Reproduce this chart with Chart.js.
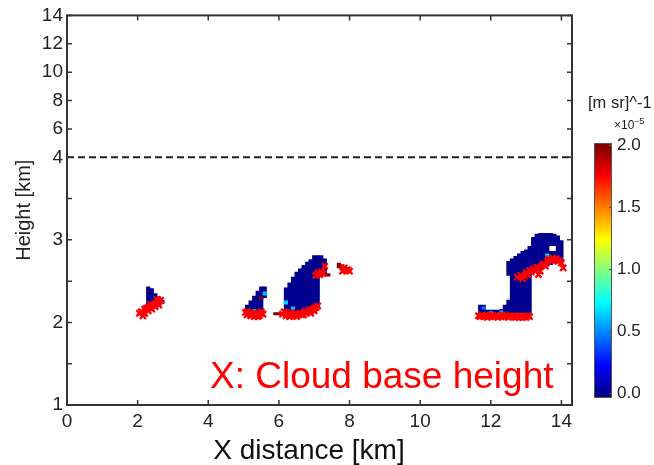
<!DOCTYPE html>
<html>
<head>
<meta charset="utf-8">
<script src="https://cdn.jsdelivr.net/npm/chart.js@4/dist/chart.umd.min.js"></script>
<style>
  html, body { margin: 0; padding: 0; background: #ffffff; }
  #wrap { width: 654px; height: 465px; position: relative; }
</style>
</head>
<body>
<div id="wrap"><canvas id="c" width="654" height="465"></canvas></div>
<script>
// ---------------- axes ----------------
const xMax = 14.3;                                   // km
const xTicks = [0, 2, 4, 6, 8, 10, 12, 14];
const yTicks = [1, 1.5, 2, 2.5, 3, 3.5, 4, 6, 8, 10, 12, 14];
const yLabelled = [1, 2, 3, 4, 6, 8, 10, 12, 14];
const splitHeight = 4;                               // km, axis is stretched below this
const upperScaleFactor = 0.1718;                     // compression above splitHeight
const cbTicks = [0.0, 0.5, 1.0, 1.5, 2.0];           // x10^-5 [m sr]^-1
const cbMax = 2.0;

// ---------------- cloud bodies: one column per 0.1 km ----------------
const colX = [
  2.3, 2.4, 2.5, 2.6, 2.7,
  5.1, 5.2, 5.3, 5.4, 5.5, 5.6,
  6.2, 6.3, 6.4, 6.5, 6.6, 6.7, 6.8, 6.9, 7.0, 7.1, 7.2, 7.3,
  11.7, 11.8, 11.9, 12.0, 12.1, 12.2, 12.3, 12.4, 12.5, 12.5,
  12.6, 12.7, 12.8, 12.9, 13.0, 13.1, 13.2, 13.3, 13.4, 13.5, 13.6,
  13.7, 13.7, 13.8, 13.8, 13.9, 14.0
];
const colLo = [
  2.16, 2.16, 2.18, 2.20, 2.23,
  2.11, 2.11, 2.11, 2.11, 2.14, 2.30,
  2.12, 2.12, 2.12, 2.12, 2.12, 2.13, 2.14, 2.15, 2.16, 2.18, 2.55, 2.58,
  2.08, 2.08, 2.08, 2.08, 2.08, 2.08, 2.08, 2.08, 2.08, 2.57,
  2.08, 2.08, 2.08, 2.08, 2.08, 2.08, 2.60, 2.62, 2.64, 2.66, 2.68,
  2.70, 2.93, 2.72, 2.93, 2.73, 2.72
];
const colHi = [
  2.43, 2.41, 2.35, 2.31, 2.27,
  2.21, 2.26, 2.32, 2.38, 2.43, 2.43,
  2.42, 2.48, 2.55, 2.61, 2.65, 2.69, 2.73, 2.76, 2.81, 2.81, 2.81, 2.77,
  2.21, 2.21, 2.15, 2.15, 2.15, 2.15, 2.16, 2.21, 2.27, 2.74,
  2.77, 2.80, 2.83, 2.86, 2.88, 2.92, 3.03, 3.07, 3.08, 3.08, 3.08,
  2.86, 3.08, 2.86, 3.07, 3.05, 2.99
];
const bodyValue = 0.0;

// ---------------- cells with stronger backscatter ----------------
const cellX   = [5.6, 5.5, 5.3, 5.9, 6.0, 6.1, 6.2, 6.4, 6.7, 7.4, 7.7, 7.8, 12.0, 12.3, 11.8, 12.7, 12.8, 12.9, 13.0, 13.6];
const cellLo  = [2.33, 2.28, 2.13, 2.09, 2.09, 2.09, 2.22, 2.15, 2.08, 2.56, 2.66, 2.64, 2.10, 2.11, 2.16, 2.08, 2.08, 2.08, 2.08, 2.79];
const cellHi  = [2.37, 2.31, 2.16, 2.12, 2.12, 2.12, 2.26, 2.19, 2.11, 2.59, 2.72, 2.70, 2.13, 2.14, 2.19, 2.11, 2.11, 2.11, 2.11, 2.83];
const cellVal = [0.60, 2.00, 0.60, 2.00, 2.00, 1.95, 0.65, 0.60, 1.20, 2.00, 2.00, 1.90, 0.60, 0.55, 0.45, 1.30, 1.40, 1.50, 1.35, 0.65];

// ---------------- cloud base height ----------------
const baseX = [
  2.05, 2.1, 2.15, 2.2, 2.25, 2.3, 2.35, 2.4, 2.45, 2.5, 2.55, 2.6, 2.65,
  2.2, 2.3, 2.4, 2.5, 2.6, 2.15, 2.35, 2.55,
  5.05, 5.1, 5.15, 5.2, 5.25, 5.3, 5.35, 5.4, 5.45, 5.5, 5.55,
  5.1, 5.2, 5.3, 5.4, 5.5,
  6.1, 6.15, 6.2, 6.25, 6.3, 6.35, 6.4, 6.45, 6.5, 6.55, 6.6, 6.65, 6.7, 6.75, 6.8, 6.85, 6.9, 6.95, 7.0, 7.05, 7.1,
  6.3, 6.5, 6.7, 6.9, 7.0,
  7.05, 7.1, 7.15, 7.2, 7.25, 7.3,
  7.8, 7.85, 7.9, 7.95, 8.0,
  11.65, 11.7, 11.75, 11.8, 11.85, 11.9, 11.95, 12.0, 12.05, 12.1, 12.15, 12.2, 12.25, 12.3, 12.35,
  12.4, 12.45, 12.5, 12.55, 12.6, 12.65, 12.7, 12.75, 12.8, 12.85, 12.9, 12.95, 13.0, 13.05, 13.1,
  12.75, 12.85, 12.9, 12.95, 13.0, 13.05, 13.1, 13.15, 13.2, 13.25, 13.3, 13.35, 13.4, 13.45, 13.5, 13.55, 13.6,
  13.65, 13.7, 13.75, 13.8, 13.85, 13.9, 13.95, 14.0, 14.05
];
const baseH = [
  2.11, 2.13, 2.12, 2.16, 2.17, 2.18, 2.18, 2.20, 2.21, 2.22, 2.24, 2.25, 2.27,
  2.11, 2.14, 2.16, 2.19, 2.21, 2.08, 2.22, 2.28,
  2.12, 2.09, 2.11, 2.08, 2.10, 2.07, 2.09, 2.10, 2.08, 2.11, 2.10,
  2.13, 2.12, 2.11, 2.07, 2.13,
  2.10, 2.13, 2.08, 2.10, 2.09, 2.12, 2.08, 2.10, 2.09, 2.10, 2.11, 2.09, 2.12, 2.13, 2.12, 2.15, 2.14, 2.16, 2.17, 2.18, 2.20,
  2.07, 2.07, 2.09, 2.11, 2.14,
  2.57, 2.60, 2.58, 2.61, 2.59, 2.68,
  2.62, 2.66, 2.63, 2.64, 2.62,
  2.08, 2.07, 2.09, 2.07, 2.08, 2.06, 2.08, 2.07, 2.09, 2.07, 2.08, 2.06, 2.08, 2.07, 2.09,
  2.07, 2.08, 2.06, 2.08, 2.07, 2.08, 2.06, 2.07, 2.06, 2.08, 2.06, 2.07, 2.06, 2.08, 2.07,
  2.55, 2.57, 2.53, 2.56, 2.60, 2.58, 2.63, 2.61, 2.65, 2.63, 2.67, 2.58, 2.62, 2.69, 2.71, 2.68, 2.74,
  2.77, 2.75, 2.78, 2.76, 2.77, 2.74, 2.75, 2.72, 2.66
];

// ---------------- helpers ----------------
const FONT = '"Liberation Sans", Arial, sans-serif';
const INK = '#222222';
const FRAME = '#333333';

function warp(h) {
  return h <= splitHeight ? h : splitHeight + (h - splitHeight) * upperScaleFactor;
}
function unwarp(t) {
  return t <= splitHeight ? t : splitHeight + (t - splitHeight) / upperScaleFactor;
}

// MATLAB-style jet colormap, t in [0,1]
function jetRGB(t) {
  t = Math.min(1, Math.max(0, t));
  const u = 1 / 64 + t * 63 / 64;
  const c = v => Math.round(255 * Math.min(1, Math.max(0, v)));
  return [c(1.5 - Math.abs(4 * u - 3)), c(1.5 - Math.abs(4 * u - 2)), c(1.5 - Math.abs(4 * u - 1))];
}
function jet(t) {
  const [r, g, b] = jetRGB(t);
  return `rgb(${r},${g},${b})`;
}

// Height axis: linear below 4 km, compressed above
class SplitScale extends Chart.LinearScale {
  getPixelForValue(v) {
    const a = warp(this.min), b = warp(this.max);
    return this.getPixelForDecimal((warp(v) - a) / (b - a));
  }
  getValueForPixel(p) {
    const a = warp(this.min), b = warp(this.max);
    return unwarp(a + this.getDecimalForPixel(p) * (b - a));
  }
}
SplitScale.id = 'split';
SplitScale.defaults = Chart.LinearScale.defaults;
Chart.register(SplitScale);

// ---------------- frame, inner ticks, labels, colorbar ----------------
const decorations = {
  id: 'decorations',
  afterDatasetsDraw(chart) {
    const { ctx, chartArea: a, scales: { x, y } } = chart;
    const tl = 5;
    ctx.save();
    ctx.strokeStyle = FRAME;
    ctx.lineWidth = 1.5;
    ctx.beginPath();
    xTicks.forEach(v => {
      const px = x.getPixelForValue(v);
      ctx.moveTo(px, a.bottom); ctx.lineTo(px, a.bottom - tl);
      ctx.moveTo(px, a.top); ctx.lineTo(px, a.top + tl);
    });
    yTicks.forEach(v => {
      const py = y.getPixelForValue(v);
      ctx.moveTo(a.left, py); ctx.lineTo(a.left + tl, py);
      ctx.moveTo(a.right, py); ctx.lineTo(a.right - tl, py);
    });
    ctx.stroke();
    ctx.lineWidth = 2;
    ctx.strokeRect(a.left, a.top, a.right - a.left, a.bottom - a.top);

    // annotation
    ctx.fillStyle = '#ff0000';
    ctx.font = `37px ${FONT}`;
    ctx.textAlign = 'left';
    ctx.textBaseline = 'alphabetic';
    ctx.fillText('X: Cloud base height', 210, 388);
    ctx.restore();
  },
  afterDraw(chart) {
    const { ctx } = chart;
    ctx.save();
    // x axis title
    ctx.fillStyle = '#111111';
    ctx.font = `28px ${FONT}`;
    ctx.textAlign = 'center';
    ctx.textBaseline = 'alphabetic';
    ctx.fillText('X distance [km]', 309, 459);

    // colorbar
    const cbL = 594, cbR = 612, cbTopV = 145, cbBotV = 393;
    const cbTopEdge = 143, cbBotEdge = 398;
    const valToY = v => cbBotV - (v / cbMax) * (cbBotV - cbTopV);
    const grad = ctx.createLinearGradient(0, cbBotEdge, 0, cbTopEdge);
    const n = 64;
    for (let i = 0; i <= n; i++) {
      const py = cbBotEdge + (cbTopEdge - cbBotEdge) * i / n;
      const v = (cbBotV - py) / (cbBotV - cbTopV) * cbMax;
      grad.addColorStop(i / n, jet(v / cbMax));
    }
    ctx.fillStyle = grad;
    ctx.fillRect(cbL, cbTopEdge, cbR - cbL, cbBotEdge - cbTopEdge);
    ctx.strokeStyle = '#555555';
    ctx.lineWidth = 1;
    ctx.strokeRect(cbL + 0.5, cbTopEdge + 0.5, cbR - cbL - 1, cbBotEdge - cbTopEdge - 1);
    ctx.beginPath();
    cbTicks.forEach(v => {
      const py = Math.round(valToY(v)) + 0.5;
      ctx.moveTo(cbR, py); ctx.lineTo(cbR - 3, py);
    });
    ctx.stroke();
    ctx.fillStyle = INK;
    ctx.font = `17px ${FONT}`;
    ctx.textAlign = 'left';
    ctx.textBaseline = 'middle';
    cbTicks.forEach(v => ctx.fillText(v.toFixed(1), 617, valToY(v)));

    // unit labels
    ctx.textBaseline = 'alphabetic';
    ctx.font = `16.5px ${FONT}`;
    ctx.fillText('[m sr]^-1', 588, 108);
    ctx.font = `12px ${FONT}`;
    ctx.fillText('\u00d710', 614, 129);
    ctx.font = `9px ${FONT}`;
    ctx.fillText('\u22125', 634, 124);
    ctx.restore();
  }
};

// ---------------- datasets ----------------
const bodyData = colX.map((x, i) => ({ x, y: [colLo[i], colHi[i]] }));
const cellData = cellX.map((x, i) => ({ x, y: [cellLo[i], cellHi[i]] }));
const baseData = baseX.map((x, i) => ({ x, y: baseH[i] }));

new Chart(document.getElementById('c'), {
  type: 'scatter',
  data: {
    datasets: [
      {
        type: 'scatter',
        label: 'Cloud base height',
        data: baseData,
        pointStyle: 'crossRot',
        pointRadius: 4.3,
        borderColor: '#ff0000',
        backgroundColor: '#ff0000',
        borderWidth: 2.3,
        order: 0
      },
      {
        type: 'bar',
        label: 'backscatter',
        data: cellData,
        backgroundColor: cellVal.map(v => jet(v / cbMax)),
        grouped: false,
        barPercentage: 1,
        categoryPercentage: 1,
        borderWidth: 0,
        order: 1
      },
      {
        type: 'bar',
        label: 'cloud',
        data: bodyData,
        backgroundColor: jet(bodyValue / cbMax),
        grouped: false,
        barPercentage: 1,
        categoryPercentage: 1,
        borderWidth: 0,
        order: 2
      },
      {
        type: 'line',
        label: '4 km',
        data: [{ x: 0, y: splitHeight }, { x: xMax, y: splitHeight }],
        borderColor: '#222222',
        borderWidth: 2,
        borderDash: [7, 4],
        pointRadius: 0,
        order: 3
      }
    ]
  },
  options: {
    responsive: false,
    devicePixelRatio: 1,
    animation: false,
    layout: { padding: { top: 15, right: 82, bottom: 0, left: 0 } },
    plugins: { legend: { display: false }, tooltip: { enabled: false } },
    scales: {
      x: {
        type: 'linear',
        min: 0,
        max: xMax,
        offset: false,
        afterBuildTicks: s => { s.ticks = xTicks.map(v => ({ value: v })); },
        afterFit: s => { s.height = 60; },
        grid: { display: false, drawTicks: false },
        border: { display: false },
        ticks: {
          autoSkip: false,
          maxRotation: 0,
          padding: 5,
          color: INK,
          font: { family: FONT, size: 19 },
          callback: v => String(v)
        }
      },
      y: {
        type: 'split',
        min: 1,
        max: 14,
        afterBuildTicks: s => { s.ticks = yTicks.map(v => ({ value: v })); },
        afterFit: s => { s.width = 67; },
        grid: { display: false, drawTicks: false },
        border: { display: false },
        ticks: {
          autoSkip: false,
          padding: 4,
          color: INK,
          font: { family: FONT, size: 19 },
          callback: v => (yLabelled.includes(v) ? String(v) : '')
        },
        title: {
          display: true,
          text: 'Height [km]',
          color: INK,
          font: { family: FONT, size: 20 },
          padding: { top: 12, bottom: 0 }
        }
      }
    }
  },
  plugins: [decorations]
});
</script>
</body>
</html>
